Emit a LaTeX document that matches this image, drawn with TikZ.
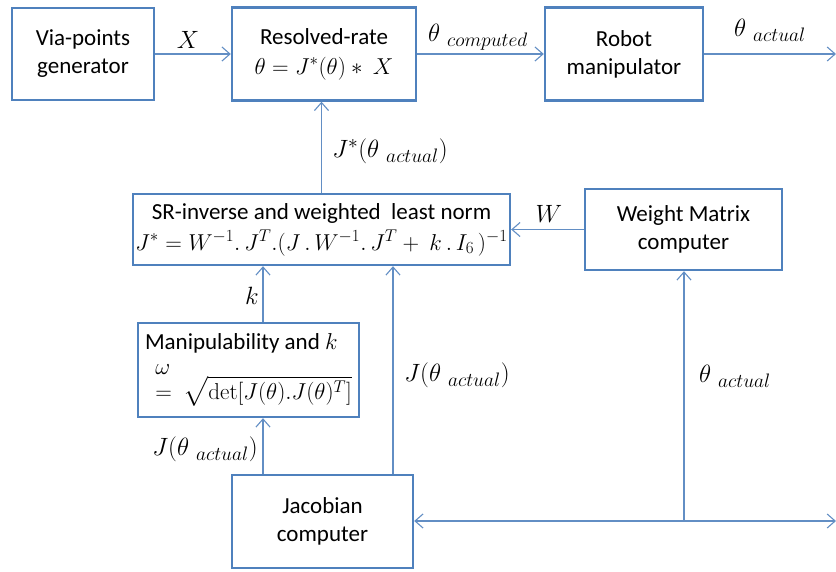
\RequirePackage{fix-cm}
\documentclass[tikz,border=0pt]{standalone}
\usepackage[no-math]{fontspec}
\setmainfont{Carlito}
\usepackage{amsmath}
\DeclareMathSizes{25}{25}{19.5}{15}
\DeclareMathSizes{23}{23}{17}{13}
\usetikzlibrary{arrows.meta}
\definecolor{boxblue}{RGB}{79,129,189}
\definecolor{lineblue}{RGB}{98,142,196}
\begin{document}
\begin{tikzpicture}[x=1pt,y=-1pt,
  blk/.style={draw=boxblue, line width=2.4pt, inner sep=0pt, align=center,
              font=\fontsize{23}{28}\selectfont},
  conn/.style={draw=lineblue, line width=1.1pt, -{Straight Barb[length=8pt,width=14pt]}},
  lbl/.style={font=\fontsize{25}{30}\selectfont, inner sep=0pt}]
\useasboundingbox (0,0) rectangle (836,571);

% blocks
\node[blk, minimum width=142pt, minimum height=92pt] (via) at (83,54) {Via-points\\generator};
\node[blk, minimum width=184pt, minimum height=93pt, font=\fontsize{23}{30}\selectfont] (rr) at (324,54) {Resolved-rate\\$\theta = J^{*}(\theta) * \ X$};
\node[blk, minimum width=158pt, minimum height=93pt] (robot) at (624,54) {Robot\\manipulator};
\node[blk, minimum width=377pt, minimum height=71pt, font=\fontsize{23}{31}\selectfont] (sr) at (321.5,229.5)
  {SR-inverse and weighted\ \ least norm\\$J^{*} = W^{-1}.\,J^{T}.(J\,.\,W^{-1}.\,J^{T} +\ k\,.\,I_{6}\,)^{-1}$};
\node[blk, minimum width=221pt, minimum height=94pt, align=left, font=\fontsize{23}{25}\selectfont] (manip) at (248.5,370)
  {Manipulability and $k$\\\ \ $\omega$\\\ \ $=\ \sqrt{\det[J(\theta).J(\theta)^{T}]}$};
\node[blk, minimum width=197pt, minimum height=81pt] (wm) at (683.5,229.5) {Weight Matrix\\computer};
\node[blk, minimum width=181pt, minimum height=93pt] (jac) at (322.5,521.5) {Jacobian\\computer};

% helper coordinates
\coordinate (out) at (836,54);
\coordinate (kx) at (263,0);
\coordinate (jx) at (393,0);
\coordinate (br) at (836,521);
\coordinate (wx) at (684,521);

% connectors
\draw[conn] (via) -- (rr);
\draw[conn] (rr) -- (robot);
\draw[conn] (robot) -- (out);
\draw[conn] (sr.north) -- (sr.north |- rr.south);
\draw[conn] (wm) -- (sr);
\draw[conn] (manip.north -| kx) -- (sr.south -| kx);
\draw[conn] (jac.north -| kx) -- (manip.south -| kx);
\draw[conn] (jac.north -| jx) -- (sr.south -| jx);
\draw[conn, {Straight Barb[length=8pt,width=14pt]}-{Straight Barb[length=8pt,width=14pt]}] (jac.east |- br) -- (br);
\draw[conn] (wx) -- (wm.south -| wx);

% labels
\node[lbl] (lX) at (188,40) {$X$};
\node[lbl] (lthc) at (478,37) {$\theta\;{}_{computed}$};
\node[lbl] (ltha) at (770,30) {$\theta\;{}_{actual}$};
\node[lbl] (lJs) at (390,151) {$J^{*}(\theta\;{}_{actual})$};
\node[lbl] (lW) at (549,214) {$W$};
\node[lbl] (lk) at (252,296) {$k$};
\node[lbl] (lJ1) at (457,375) {$J(\theta\;{}_{actual})$};
\node[lbl] (ltha2) at (735,376) {$\theta\;{}_{actual}$};
\node[lbl] (lJ2) at (205,449) {$J(\theta\;{}_{actual})$};
\end{tikzpicture}
\end{document}
